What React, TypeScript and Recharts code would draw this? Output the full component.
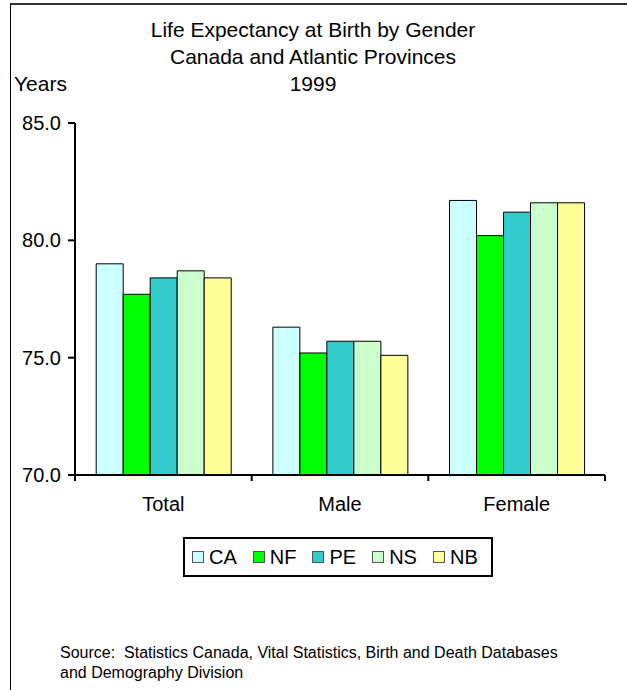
import React from "react";
import { BarChart, Bar, XAxis, YAxis, Legend } from "recharts";

const categories = ["Total", "Male", "Female"];
const caValues = [79.0, 76.3, 81.7];
const nfValues = [77.7, 75.2, 80.2];
const peValues = [78.4, 75.7, 81.2];
const nsValues = [78.7, 75.7, 81.6];
const nbValues = [78.4, 75.1, 81.6];
const yTicks = [70, 75, 80, 85];

const series = [
  { key: "CA", values: caValues, color: "#CCFFFF" },
  { key: "NF", values: nfValues, color: "#00FF00" },
  { key: "PE", values: peValues, color: "#33CCCC" },
  { key: "NS", values: nsValues, color: "#CCFFCC" },
  { key: "NB", values: nbValues, color: "#FFFF99" },
];

const data = categories.map((name, i) => {
  const row: Record<string, string | number> = { name };
  series.forEach((s) => (row[s.key] = s.values[i]));
  return row;
});

const FONT = '"Liberation Sans", Arial, sans-serif';
const PLOT_W = 530;
const X_TICK_SIZE = 6;
const X_TICK_MARGIN = 16;

const CategoryTick = (props: any) => {
  const { x, y, payload, index } = props;
  const bw = PLOT_W / categories.length;
  const axisY = y - X_TICK_SIZE - X_TICK_MARGIN;
  return (
    <g>
      <line x1={x - bw / 2} x2={x - bw / 2} y1={axisY} y2={axisY + 6} stroke="#000" strokeWidth={2} />
      {index === categories.length - 1 && (
        <line x1={x + bw / 2} x2={x + bw / 2} y1={axisY} y2={axisY + 6} stroke="#000" strokeWidth={2} />
      )}
      <text x={x} y={y} dy="0.71em" textAnchor="middle" fill="#000" fontSize={20} fontFamily={FONT}>
        {payload.value}
      </text>
    </g>
  );
};

const LegendBox = () => (
  <div
    style={{
      border: "2px solid #000",
      height: 40,
      display: "flex",
      alignItems: "center",
      justifyContent: "flex-start",
      paddingLeft: 7,
      gap: 16,
      fontFamily: FONT,
      fontSize: 20,
      background: "#fff",
      boxSizing: "border-box",
      color: "#000",
    }}
  >
    {series.map((s) => (
      <div key={s.key} style={{ display: "flex", alignItems: "center", gap: 5 }}>
        <span
          style={{
            display: "inline-block",
            width: 10,
            height: 10,
            background: s.color,
            border: "1px solid #555",
          }}
        />
        <span>{s.key}</span>
      </div>
    ))}
  </div>
);

export default function App() {
  return (
    <div
      style={{
        position: "absolute",
        left: 0,
        top: 0,
        width: 627,
        height: 690,
        overflow: "hidden",
        background: "#fff",
        fontFamily: FONT,
      }}
    >
      <div
        style={{
          position: "absolute",
          left: 10,
          top: 3,
          width: 700,
          height: 800,
          borderLeft: "1px solid #000",
          borderTop: "2px solid #333",
        }}
      />
      <div
        style={{
          position: "absolute",
          left: 113,
          top: 16,
          width: 400,
          textAlign: "center",
          fontSize: 21,
          lineHeight: "27px",
          color: "#000",
        }}
      >
        <div>Life Expectancy at Birth by Gender</div>
        <div>Canada and Atlantic Provinces</div>
        <div>1999</div>
      </div>
      <div style={{ position: "absolute", left: 14, top: 70, fontSize: 21, lineHeight: "27px" }}>Years</div>
      <div style={{ position: "absolute", left: 0, top: 0 }}>
        <BarChart
          width={627}
          height={690}
          data={data}
          margin={{ top: 123, right: 22, bottom: 175, left: 0 }}
          barCategoryGap="12%"
          barGap={0}
        >
          <XAxis xAxisId="top" orientation="top" dataKey="name" height={0} tick={false} tickLine={false} axisLine={{ stroke: "#888", strokeWidth: 2 }} />
          <XAxis
            dataKey="name"
            height={40}
            tickLine={false}
            tickSize={X_TICK_SIZE}
            axisLine={{ stroke: "#000", strokeWidth: 2 }}
            tick={<CategoryTick />}
            tickMargin={X_TICK_MARGIN}
            interval={0}
          />
          <YAxis yAxisId="right" orientation="right" width={0} domain={[70, 85]} ticks={yTicks} tick={false} tickLine={false} axisLine={{ stroke: "#888", strokeWidth: 2 }} />
          <YAxis
            domain={[70, 85]}
            ticks={yTicks}
            width={75}
            tickSize={7}
            tickMargin={7}
            tickFormatter={(v: number) => v.toFixed(1)}
            tick={{ fill: "#000", fontSize: 20, fontFamily: FONT }}
            tickLine={{ stroke: "#000", strokeWidth: 2 }}
            axisLine={{ stroke: "#000", strokeWidth: 2 }}
            allowDataOverflow
          />
          {series.map((s) => (
            <Bar key={s.key} dataKey={s.key} fill={s.color} stroke="#000" strokeWidth={1} isAnimationActive={false} />
          ))}
          <Legend
            layout="horizontal"
            verticalAlign="middle"
            align="center"
            content={<LegendBox />}
            wrapperStyle={{ left: 183, top: 537, width: 310 }}
          />
        </BarChart>
      </div>
      <div
        style={{
          position: "absolute",
          left: 60,
          top: 643,
          fontSize: 16,
          lineHeight: "20px",
          color: "#000",
        }}
      >
        <div>Source:&nbsp; Statistics Canada, Vital Statistics, Birth and Death Databases</div>
        <div>and Demography Division</div>
      </div>
    </div>
  );
}
